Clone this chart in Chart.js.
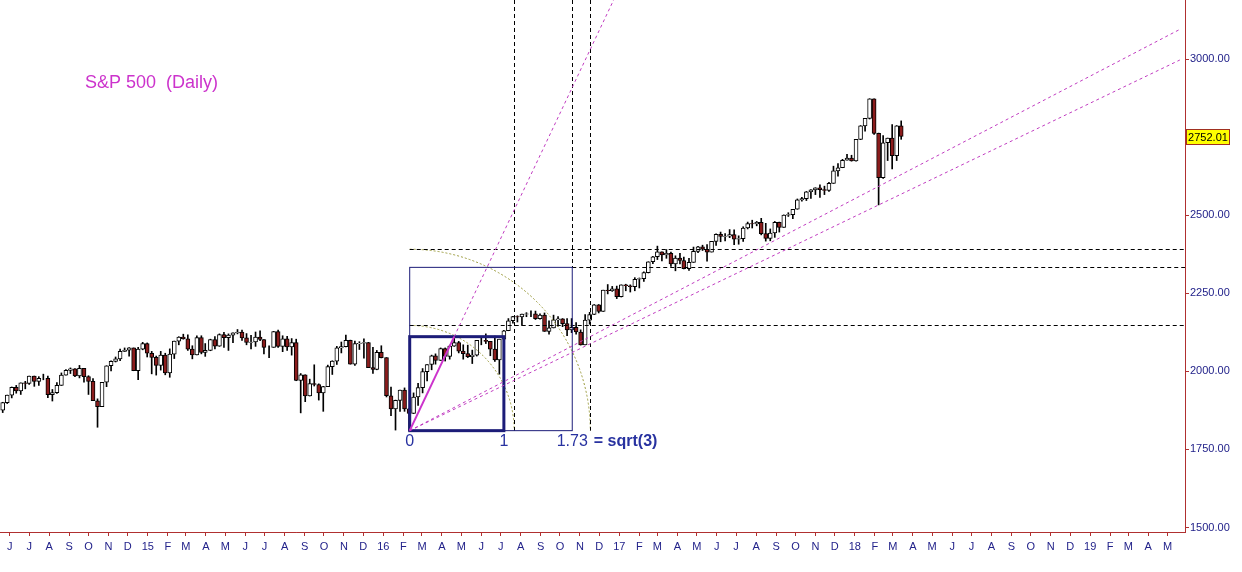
<!DOCTYPE html>
<html>
<head>
<meta charset="utf-8">
<title>S&amp;P 500 (Daily)</title>
<script src="https://cdn.jsdelivr.net/npm/chart.js@4.4.0/dist/chart.umd.min.js"></script>
<style>
    html, body { margin: 0; padding: 0; background: #fff; }
    canvas { display: block; }
</style>
</head>
<body>
<canvas id="chart" width="1242" height="572"></canvas>
<script>
// --- Data: weekly candles (week ending Friday) ---
const weekEnd = [
    '2014-05-23','2014-05-30','2014-06-06','2014-06-13','2014-06-20','2014-06-27','2014-07-03','2014-07-11','2014-07-18','2014-07-25','2014-08-01','2014-08-08','2014-08-15','2014-08-22','2014-08-29','2014-09-05','2014-09-12','2014-09-19','2014-09-26','2014-10-03','2014-10-10','2014-10-17','2014-10-24','2014-10-31','2014-11-07','2014-11-14','2014-11-21','2014-11-28','2014-12-05','2014-12-12','2014-12-19','2014-12-26',
    '2015-01-02','2015-01-09','2015-01-16','2015-01-23','2015-01-30','2015-02-06','2015-02-13','2015-02-20','2015-02-27','2015-03-06','2015-03-13','2015-03-20','2015-03-27','2015-04-02','2015-04-10','2015-04-17','2015-04-24','2015-05-01','2015-05-08','2015-05-15','2015-05-22','2015-05-29','2015-06-05','2015-06-12','2015-06-19','2015-06-26','2015-07-02','2015-07-10','2015-07-17','2015-07-24','2015-07-31','2015-08-07','2015-08-14','2015-08-21','2015-08-28','2015-09-04','2015-09-11','2015-09-18','2015-09-25','2015-10-02','2015-10-09','2015-10-16','2015-10-23','2015-10-30','2015-11-06','2015-11-13','2015-11-20','2015-11-27','2015-12-04','2015-12-11','2015-12-18','2015-12-24','2015-12-31',
    '2016-01-08','2016-01-15','2016-01-22','2016-01-29','2016-02-05','2016-02-12','2016-02-19','2016-02-26','2016-03-04','2016-03-11','2016-03-18','2016-03-24','2016-04-01','2016-04-08','2016-04-15','2016-04-22','2016-04-29','2016-05-06','2016-05-13','2016-05-20','2016-05-27','2016-06-03','2016-06-10','2016-06-17','2016-06-24','2016-07-01','2016-07-08','2016-07-15','2016-07-22','2016-07-29','2016-08-05','2016-08-12','2016-08-19','2016-08-26','2016-09-02','2016-09-09','2016-09-16','2016-09-23','2016-09-30','2016-10-07','2016-10-14','2016-10-21','2016-10-28','2016-11-04','2016-11-11','2016-11-18','2016-11-25','2016-12-02','2016-12-09','2016-12-16','2016-12-23','2016-12-30',
    '2017-01-06','2017-01-13','2017-01-20','2017-01-27','2017-02-03','2017-02-10','2017-02-17','2017-02-24','2017-03-03','2017-03-10','2017-03-17','2017-03-24','2017-03-31','2017-04-07','2017-04-13','2017-04-21','2017-04-28','2017-05-05','2017-05-12','2017-05-19','2017-05-26','2017-06-02','2017-06-09','2017-06-16','2017-06-23','2017-06-30','2017-07-07','2017-07-14','2017-07-21','2017-07-28','2017-08-04','2017-08-11','2017-08-18','2017-08-25','2017-09-01','2017-09-08','2017-09-15','2017-09-22','2017-09-29','2017-10-06','2017-10-13','2017-10-20','2017-10-27','2017-11-03','2017-11-10','2017-11-17','2017-11-24','2017-12-01','2017-12-08','2017-12-15','2017-12-22','2017-12-29',
    '2018-01-05','2018-01-12','2018-01-19','2018-01-26','2018-02-02','2018-02-09','2018-02-16','2018-02-23','2018-03-02','2018-03-09','2018-03-16'
];
const op = [
    1876,1900,1924,1949,1937,1963,1961,1985,1968,1978,1978,1925,1932,1955,1988,2003,2008,1985,2010,1983,1968,1906,1887,1965,2018,2032,2040,2064,2068,2075,2002,2071,
    2089,2058,2045,2019,2052,1995,2055,2097,2110,2104,2071,2053,2108,2061,2067,2102,2081,2118,2108,2116,2123,2126,2107,2093,2094,2110,2102,2077,2077,2127,2080,2104,2078,2092,1971,1989,1921,1961,1958,1931,1951,2015,2033,2075,2079,2099,2023,2089,2090,2092,2012,2006,2061,
    2044,1922,1880,1907,1940,1880,1865,1918,1948,1999,2022,2050,2035,2073,2048,2081,2092,2065,2057,2047,2052,2099,2099,2096,2071,2037,2103,2130,2162,2175,2174,2183,2184,2184,2169,2180,2128,2139,2165,2168,2153,2133,2141,2126,2085,2164,2182,2213,2192,2260,2258,2264,
    2239,2277,2274,2271,2295,2297,2316,2351,2367,2383,2373,2378,2344,2363,2355,2329,2349,2384,2399,2391,2382,2416,2439,2432,2433,2438,2423,2425,2459,2473,2472,2477,2441,2426,2443,2477,2461,2500,2502,2519,2549,2553,2575,2581,2588,2582,2579,2602,2642,2652,2676,2683,
    2674,2743,2786,2810,2873,2762,2620,2732,2747,2691,2786
];
const hi = [
    1901,1924,1950,1955,1963,1968,1985,1985,1983,1991,1985,1942,1964,1995,2006,2011,2009,2019,2010,1986,1977,1912,1965,2018,2034,2046,2071,2075,2076,2075,2077,2093,
    2091,2064,2049,2064,2058,2072,2097,2111,2119,2117,2082,2114,2114,2089,2103,2111,2120,2125,2120,2123,2134,2132,2121,2115,2126,2130,2102,2082,2128,2132,2114,2112,2105,2103,1993,1989,1975,2021,1960,1952,2020,2034,2080,2094,2116,2100,2097,2095,2104,2093,2077,2067,2082,
    2044,1950,1908,1940,1947,1881,1931,1962,2009,2022,2052,2056,2075,2075,2084,2111,2096,2085,2084,2068,2099,2106,2120,2096,2113,2103,2131,2169,2176,2178,2183,2188,2194,2193,2184,2187,2162,2180,2175,2169,2169,2169,2156,2133,2182,2189,2214,2214,2260,2278,2272,2273,
    2277,2279,2277,2300,2299,2319,2351,2368,2401,2383,2390,2382,2370,2378,2366,2362,2398,2400,2404,2406,2416,2440,2446,2441,2454,2453,2434,2463,2478,2484,2480,2490,2474,2456,2480,2478,2501,2508,2519,2552,2557,2576,2582,2588,2597,2593,2605,2657,2665,2679,2695,2692,
    2743,2787,2810,2873,2873,2763,2755,2747,2790,2787,2802
];
const lo = [
    1868,1897,1915,1930,1926,1944,1958,1952,1955,1973,1916,1905,1929,1955,1988,1993,1983,1979,1965,1926,1906,1821,1887,1951,2001,2030,2034,2064,2049,2002,1973,2069,
    2046,1992,1988,2004,1989,1981,2041,2085,2103,2067,2040,2053,2056,2048,2066,2072,2080,2077,2067,2092,2120,2099,2085,2072,2080,2098,2056,2044,2077,2077,2063,2067,2052,1970,1867,1903,1921,1953,1908,1872,1951,1990,2022,2059,2078,2023,2019,2070,2042,2012,1993,2005,2043,
    1918,1858,1812,1872,1872,1810,1865,1891,1931,1969,2005,2023,2035,2033,2039,2080,2059,2039,2044,2025,2049,2085,2089,2050,2032,1991,2074,2130,2154,2158,2147,2175,2175,2166,2167,2128,2119,2139,2145,2143,2114,2124,2119,2084,2085,2151,2182,2187,2192,2248,2256,2233,
    2238,2258,2254,2258,2267,2288,2315,2345,2358,2354,2362,2336,2322,2344,2328,2323,2349,2380,2387,2353,2382,2403,2415,2418,2428,2406,2407,2416,2456,2459,2466,2437,2417,2418,2429,2446,2461,2496,2489,2519,2545,2547,2554,2566,2557,2566,2576,2602,2625,2652,2676,2673,
    2673,2742,2769,2808,2759,2533,2618,2675,2648,2675,2743
];
const cl = [
    1900,1924,1949,1937,1963,1961,1985,1968,1978,1978,1925,1932,1955,1988,2003,2008,1985,2010,1983,1968,1906,1887,1965,2018,2032,2040,2064,2068,2075,2002,2071,2089,
    2058,2045,2019,2052,1995,2055,2097,2110,2104,2071,2053,2108,2061,2067,2102,2081,2118,2108,2116,2123,2126,2107,2093,2094,2110,2102,2077,2077,2127,2080,2104,2078,2092,1971,1989,1921,1961,1958,1931,1951,2015,2033,2075,2079,2099,2023,2089,2090,2092,2012,2006,2061,2044,
    1922,1880,1907,1940,1880,1865,1918,1948,1999,2022,2050,2035,2073,2048,2081,2092,2065,2057,2047,2052,2099,2099,2096,2071,2037,2103,2130,2162,2175,2174,2183,2184,2184,2169,2180,2128,2139,2165,2168,2153,2133,2141,2126,2085,2164,2182,2213,2192,2260,2258,2264,2239,
    2277,2274,2271,2295,2297,2316,2351,2367,2383,2373,2378,2344,2363,2355,2329,2349,2384,2399,2391,2382,2416,2439,2432,2433,2438,2423,2425,2459,2473,2472,2477,2441,2426,2443,2477,2461,2500,2502,2519,2549,2553,2575,2581,2588,2582,2579,2602,2642,2652,2676,2683,2674,
    2743,2786,2810,2873,2762,2620,2732,2747,2691,2786,2752.01
];

// month ticks, starting June 2014
const tickLabels = [
    'J','J','A','S','O','N','D',
    '15','F','M','A','M','J','J','A','S','O','N','D',
    '16','F','M','A','M','J','J','A','S','O','N','D',
    '17','F','M','A','M','J','J','A','S','O','N','D',
    '18','F','M','A','M','J','J','A','S','O','N','D',
    '19','F','M','A','M'
];
const yTicks = [1500, 1750, 2000, 2250, 2500, 3000];

// --- Drawn geometry (dates / index values) ---
const gannOrigin = { date: '2016-02-11', value: 1810.1 };
const gannPivot = { date: '2016-04-20', value: 2111.05 };
const unitBox = { end: '2016-07-06', top: 2111.05 };
const bigBox = { end: '2016-10-20', top: 2333 };
const arcs = [
    { date: '2016-07-22', value: 2147 },
    { date: '2016-11-17', value: 2391 }
];
const levels = [
    { value: 2391, from: '2016-02-11' },
    { value: 2333, from: '2016-10-20' },
    { value: 2147, from: '2016-02-11' }
];
const timeLines = [
    { date: '2016-07-22', to: 1810.1 },
    { date: '2016-10-20', to: 2333 },
    { date: '2016-11-17', to: 1810.1 }
];
const fanEnds = [
    { date: '2019-05-20', value: 3095 },
    { date: '2019-05-20', value: 2997 }
];

const DAY = 86400000;
const BASE = Date.UTC(2014, 5, 1);
const dayNum = s => (Date.parse(s) - BASE) / DAY;
const FONT = "'Liberation Sans', Arial, sans-serif";
const AXIS = '#b03030';

// candle centred mid-week
const bodies = weekEnd.map((d, i) => ({ x: dayNum(d) - 2, y: [op[i], cl[i]] }));
const wicks = weekEnd.map((d, i) => ({ x: dayNum(d) - 2, y: [lo[i], hi[i]] }));

const overlay = {
    id: 'overlay',
    afterDatasetsDraw(chart) {
        const { ctx, chartArea: a, scales: { x, y } } = chart;
        const X = d => x.getPixelForValue(dayNum(d));
        const Y = v => y.getPixelForValue(v);
        const seg = (x1, y1, x2, y2, color, width, dash) => {
            ctx.beginPath();
            ctx.strokeStyle = color;
            ctx.lineWidth = width;
            ctx.setLineDash(dash);
            ctx.moveTo(x1, y1);
            ctx.lineTo(x2, y2);
            ctx.stroke();
        };
        const ox = X(gannOrigin.date), oy = Y(gannOrigin.value);

        ctx.save();
        ctx.beginPath();
        ctx.rect(a.left, a.top, a.right - a.left, a.bottom - a.top);
        ctx.clip();

        // arcs
        ctx.strokeStyle = '#9a9a3c';
        ctx.lineWidth = 1;
        ctx.setLineDash([2, 2]);
        arcs.forEach(r => {
            ctx.beginPath();
            ctx.ellipse(ox, oy, X(r.date) - ox, oy - Y(r.value), 0, -Math.PI / 2, 0);
            ctx.stroke();
        });

        // black dashed levels and time lines
        levels.forEach(l => seg(X(l.from), Math.round(Y(l.value)) + 0.5, a.right, Math.round(Y(l.value)) + 0.5, '#000', 1, [4, 3]));
        timeLines.forEach(t => seg(Math.round(X(t.date)) + 0.5, a.top, Math.round(X(t.date)) + 0.5, Y(t.to), '#000', 1, [4, 3]));

        // boxes
        ctx.setLineDash([]);
        ctx.strokeStyle = '#1c1c78';
        ctx.lineWidth = 1;
        ctx.strokeRect(ox, Y(bigBox.top), X(bigBox.end) - ox, oy - Y(bigBox.top));
        ctx.lineWidth = 3;
        ctx.strokeRect(ox, Y(unitBox.top), X(unitBox.end) - ox, oy - Y(unitBox.top));

        // fan lines from the low
        fanEnds.forEach(f => seg(ox, oy, X(f.date), Y(f.value), '#c03cc0', 1, [3, 3]));

        // steep line through the April high
        const px = X(gannPivot.date), py = Y(gannPivot.value);
        seg(px, py, ox + (px - ox) * 6, oy + (py - oy) * 6, '#c03cc0', 1, [3, 3]);
        seg(ox, oy, px, py, '#cc33cc', 2, []);
        ctx.restore();

        // ratio labels
        ctx.save();
        ctx.fillStyle = '#2832a0';
        ctx.font = '16px ' + FONT;
        ctx.textAlign = 'center';
        ctx.textBaseline = 'alphabetic';
        const ly = oy + 15;
        ctx.fillText('0', ox, ly);
        ctx.fillText('1', X(unitBox.end), ly);
        const sx = X(bigBox.end);
        ctx.fillText('1.73', sx, ly);
        const w = ctx.measureText('1.73').width;
        ctx.font = 'bold 16px ' + FONT;
        ctx.textAlign = 'left';
        ctx.fillText('= sqrt(3)', sx + w / 2 + 6, ly);
        ctx.restore();
    },
    afterDraw(chart) {
        const { ctx, chartArea: a, scales: { y } } = chart;
        ctx.save();
        // crisp axis frame
        ctx.strokeStyle = AXIS;
        ctx.lineWidth = 1;
        ctx.beginPath();
        const rx = Math.round(a.right) + 0.5, by = Math.round(a.bottom) + 0.5;
        ctx.moveTo(rx, 0);
        ctx.lineTo(rx, by);
        ctx.lineTo(0, by);
        ctx.stroke();

        // title
        ctx.fillStyle = '#cc33cc';
        ctx.font = '18px ' + FONT;
        ctx.textAlign = 'left';
        ctx.textBaseline = 'alphabetic';
        ctx.fillText('S&P 500  (Daily)', 85, 87.5);

        // last price tag
        const last = cl[cl.length - 1];
        const ty = Math.round(y.getPixelForValue(last));
        ctx.fillStyle = '#ffff00';
        ctx.fillRect(a.right + 1, ty - 8, 44, 16);
        ctx.strokeStyle = '#a03020';
        ctx.strokeRect(a.right + 1.5, ty - 7.5, 43, 15);
        ctx.fillStyle = '#000';
        ctx.font = '11px ' + FONT;
        ctx.textAlign = 'center';
        ctx.textBaseline = 'middle';
        ctx.fillText(last.toFixed(2), a.right + 23, ty + 0.5);
        ctx.restore();
    }
};

new Chart(document.getElementById('chart').getContext('2d'), {
    type: 'bar',
    data: {
        datasets: [
            {
                data: bodies,
                grouped: false,
                barThickness: 4,
                backgroundColor: c => (cl[c.dataIndex] < op[c.dataIndex] ? '#8b1c1c' : '#ffffff'),
                borderColor: '#000',
                borderWidth: 1,
                borderSkipped: false
            },
            {
                data: wicks,
                grouped: false,
                barThickness: 1,
                backgroundColor: '#000'
            }
        ]
    },
    options: {
        responsive: false,
        animation: false,
        devicePixelRatio: 1,
        layout: { padding: 0 },
        plugins: { legend: { display: false }, tooltip: { enabled: false } },
        scales: {
            x: {
                type: 'linear',
                min: -15.2,
                max: 1822,
                offset: false,
                grid: { drawOnChartArea: false, tickLength: 4, color: AXIS, offset: false },
                border: { color: AXIS },
                ticks: {
                    autoSkip: false,
                    maxRotation: 0,
                    padding: 4,
                    color: '#22228a',
                    font: { family: FONT, size: 11 },
                    callback: (v, i) => tickLabels[i]
                },
                afterBuildTicks: s => {
                    s.ticks = tickLabels.map((_, i) => ({ value: (Date.UTC(2014, 5 + i, 1) - BASE) / DAY }));
                },
                afterFit: s => { s.height = 40; s.paddingLeft = 0; s.paddingRight = 0; }
            },
            y: {
                position: 'right',
                min: 1485.6,
                max: 3189.1,
                grid: { drawOnChartArea: false, tickLength: 4, color: AXIS },
                border: { color: AXIS },
                ticks: {
                    padding: 1,
                    color: '#22228a',
                    font: { family: FONT, size: 11 },
                    callback: v => v.toFixed(2)
                },
                afterBuildTicks: s => { s.ticks = yTicks.map(v => ({ value: v })); },
                afterFit: s => { s.width = 57; s.paddingTop = 0; s.paddingBottom = 0; }
            }
        }
    },
    plugins: [overlay]
});
</script>
</body>
</html>
